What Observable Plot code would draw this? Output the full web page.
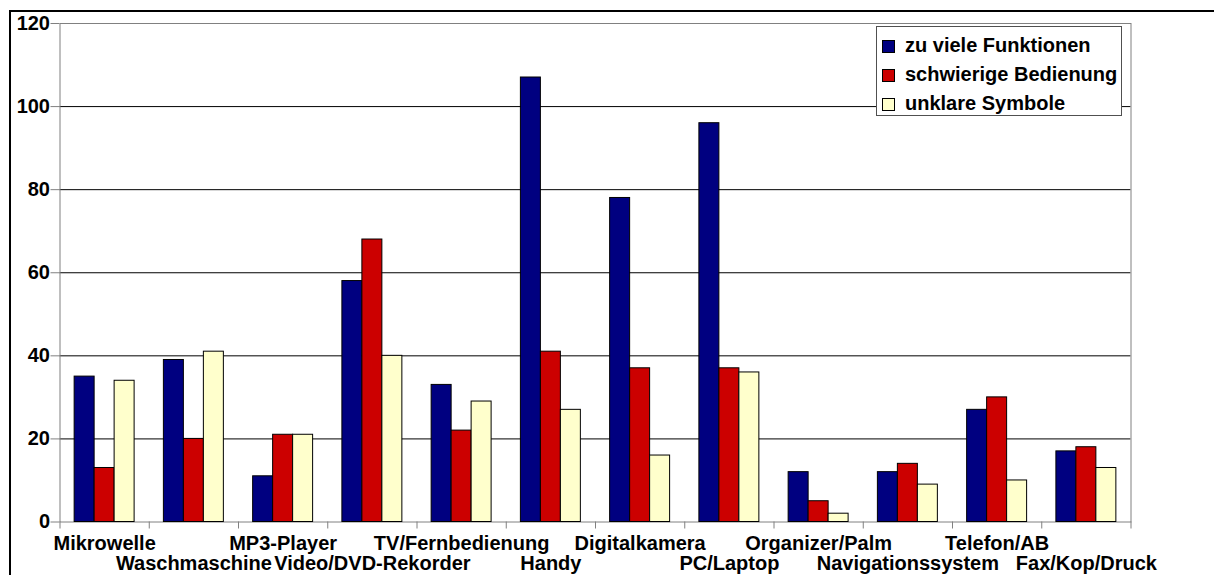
<!DOCTYPE html>
<html>
<head>
<meta charset="utf-8">
<script src="https://cdn.jsdelivr.net/npm/d3@7"></script>
<script src="https://cdn.jsdelivr.net/npm/@observablehq/plot@0.6"></script>
<style>
  html, body { margin: 0; padding: 0; background: #fff; overflow: hidden; }
  #wrap { position: relative; width: 1214px; height: 575px; font-family: "Liberation Sans", Arial, sans-serif; font-weight: bold; }
  #wrap svg { position: absolute; left: 0; top: 0; }
  #outer { position: absolute; left: 9px; top: 10px; width: 1300px; height: 700px; border-left: 2px solid #000; border-top: 2px solid #000; pointer-events: none; }
  #legend { position: absolute; left: 876px; top: 26px; width: 244px; height: 88px; background: #fff; border: 1px solid #505050; }
  .item { position: absolute; left: 5px; height: 20px; line-height: 20px; font-size: 20px; white-space: nowrap; color: #000; }
  .sw { display: inline-block; width: 11px; height: 11px; border: 1px solid #000; margin-right: 10px; vertical-align: -1px; }
</style>
</head>
<body>
<div id="wrap"><div id="outer"></div></div>
<script>
const categories = ["Mikrowelle", "Waschmaschine", "MP3-Player", "Video/DVD-Rekorder", "TV/Fernbedienung", "Handy", "Digitalkamera", "PC/Laptop", "Organizer/Palm", "Navigationssystem", "Telefon/AB", "Fax/Kop/Druck"];
const seriesNames = ["zu viele Funktionen", "schwierige Bedienung", "unklare Symbole"];
const funktionen = [35, 39, 11, 58, 33, 107, 78, 96, 12, 12, 27, 17];
const bedienung  = [13, 20, 21, 68, 22, 41, 37, 37, 5, 14, 30, 18];
const symbole    = [34, 41, 21, 40, 29, 27, 16, 36, 2, 9, 10, 13];
const yTicks = [0, 20, 40, 60, 80, 100, 120];
const colors = ["#000080", "#CC0000", "#FFFFCC"];

const seriesValues = [funktionen, bedienung, symbole];
const rows = [];
categories.forEach((c, i) => {
  seriesNames.forEach((s, j) => rows.push({ cat: c, i, series: s, j, value: seriesValues[j][i] }));
});

// grouping layout within each category slot (slot width = 1 in x units)
const groupWidth = 0.672;
const barW = groupWidth / seriesNames.length;
const groupStart = (1 - groupWidth) / 2;

const boundaries = d3.range(categories.length + 1);
const centersRow1 = categories.map((c, i) => i + 0.5).filter((d, i) => i % 2 === 0);
const centersRow2 = categories.map((c, i) => i + 0.5).filter((d, i) => i % 2 === 1);
const catLabel = d => categories[Math.floor(d)];

const chart = Plot.plot({
  width: 1214,
  height: 575,
  marginLeft: 59.5,
  marginRight: 83.5,
  marginTop: 23,
  marginBottom: 53.5,
  x: { domain: [0, categories.length] },
  y: { domain: [0, 120] },
  color: { domain: seriesNames, range: colors },
  style: { fontFamily: "'Liberation Sans', Arial, sans-serif", fontSize: "20px", fontWeight: "bold", background: "transparent", color: "#000", overflow: "visible" },
  marks: [
    Plot.ruleY(yTicks.filter(t => t > 0 && t < 120), { stroke: "#000", strokeWidth: 1 }),
    Plot.frame({ stroke: "#808080" }),
    Plot.rectY(rows, {
      x1: d => d.i + groupStart + d.j * barW,
      x2: d => d.i + groupStart + (d.j + 1) * barW,
      y: "value",
      fill: "series",
      stroke: "#000",
      strokeWidth: 1
    }),
    Plot.axisY({ ticks: yTicks, tickSize: 9, tickPadding: 1, stroke: "#808080", fill: "#000", label: null, tickFormat: d3.format("d") }),
    Plot.axisX({ ticks: boundaries, tickSize: 7, tickFormat: () => "", stroke: "#808080", label: null }),
    Plot.axisX({ ticks: centersRow1, tickSize: 0, tickPadding: 14, tickFormat: catLabel, fill: "#000", label: null }),
    Plot.axisX({ ticks: centersRow2, tickSize: 0, tickPadding: 34, tickFormat: catLabel, fill: "#000", label: null })
  ]
});

const wrap = document.getElementById("wrap");
wrap.insertBefore(chart, wrap.firstChild);

// legend (inside the plot area, top right)
const legend = document.createElement("div");
legend.id = "legend";
seriesNames.forEach((s, j) => {
  const it = document.createElement("div");
  it.className = "item";
  it.style.top = (7.5 + j * 29.4) + "px";
  const sw = document.createElement("span");
  sw.className = "sw";
  sw.style.background = colors[j];
  it.appendChild(sw);
  it.appendChild(document.createTextNode(s));
  legend.appendChild(it);
});
wrap.appendChild(legend);
</script>
</body>
</html>
